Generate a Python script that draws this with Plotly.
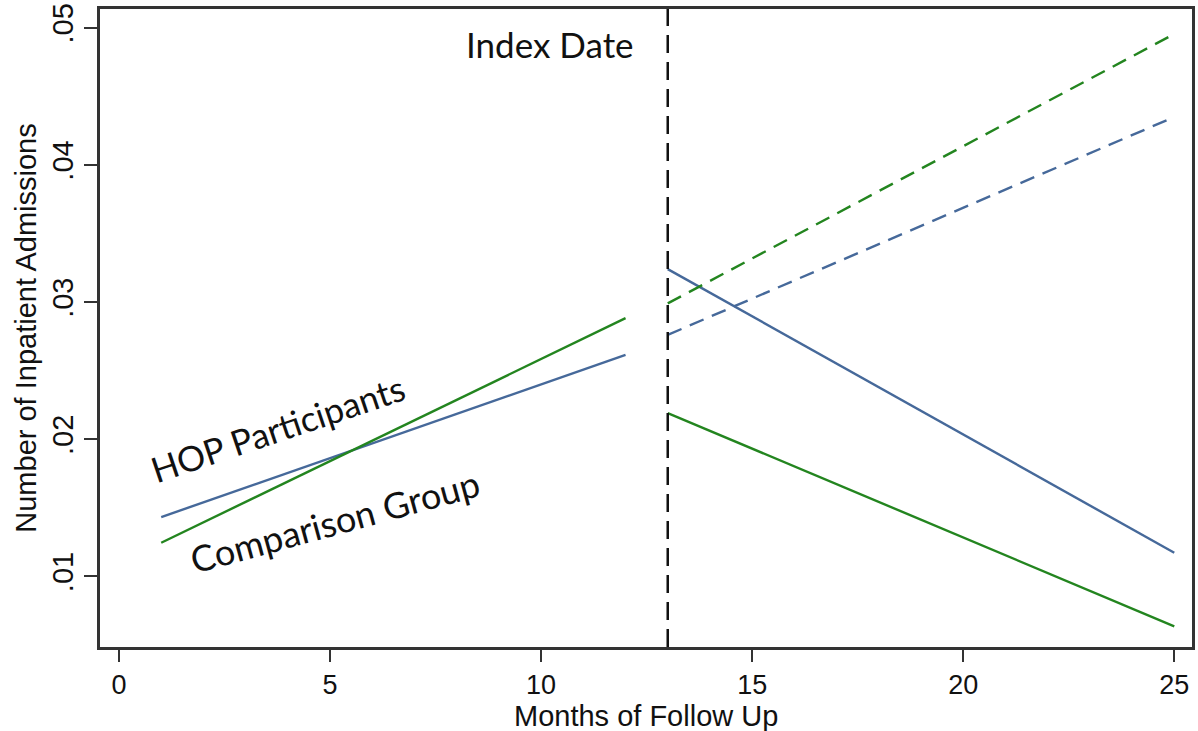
import plotly.graph_objects as go

# Data
pre_months = [1, 12]
post_months = [13, 25]
hop_pre = [0.01432, 0.02615]
comp_pre = [0.01245, 0.02882]
hop_post = [0.0324, 0.01172]
comp_post = [0.0219, 0.00636]
hop_counterfactual = [0.0276, 0.04349]
comp_counterfactual = [0.0299, 0.04954]
index_month = 13

x_ticks = [0, 5, 10, 15, 20, 25]
y_ticks = [0.01, 0.02, 0.03, 0.04, 0.05]
y_tick_labels = [".01", ".02", ".03", ".04", ".05"]

BLUE = "#46699a"
GREEN = "#23851f"
LW = 2.4

fig = go.Figure()
fig.add_trace(go.Scatter(x=pre_months, y=hop_pre, mode="lines",
                         line=dict(color=BLUE, width=LW), name="HOP pre"))
fig.add_trace(go.Scatter(x=pre_months, y=comp_pre, mode="lines",
                         line=dict(color=GREEN, width=LW), name="Comparison pre"))
fig.add_trace(go.Scatter(x=post_months, y=hop_post, mode="lines",
                         line=dict(color=BLUE, width=LW), name="HOP post"))
fig.add_trace(go.Scatter(x=post_months, y=comp_post, mode="lines",
                         line=dict(color=GREEN, width=LW), name="Comparison post"))
fig.add_trace(go.Scatter(x=post_months, y=hop_counterfactual, mode="lines",
                         line=dict(color=BLUE, width=LW, dash="15px,9px"), name="HOP cf"))
fig.add_trace(go.Scatter(x=post_months, y=comp_counterfactual, mode="lines",
                         line=dict(color=GREEN, width=LW, dash="15px,9px"), name="Comparison cf"))

fig.add_vline(x=index_month, line=dict(color="#111111", width=2.5, dash="18px,9px"))

txt_font = dict(family="Lato, Open Sans, sans-serif", size=35, color="#111111")
fig.add_annotation(x=10.2, y=0.04884, xref="x", yref="y", xanchor="center",
                   yanchor="middle", text="Index Date", showarrow=False, font=txt_font)
fig.add_annotation(x=3.75, y=0.02082, xref="x", yref="y", xanchor="center",
                   yanchor="middle", text="HOP Participants", showarrow=False,
                   font=txt_font, textangle=-18.6)
fig.add_annotation(x=5.12, y=0.01400, xref="x", yref="y", xanchor="center",
                   yanchor="middle", text="Comparison Group", showarrow=False,
                   font=dict(family="Lato, Open Sans, sans-serif", size=36, color="#111111"),
                   textangle=-15.3)

axis_font = dict(family="Liberation Sans Narrow, Arial Narrow, Liberation Sans, sans-serif",
                 size=29, color="#111111")
tick_font_x = dict(family="Liberation Sans Narrow, Arial Narrow, Liberation Sans, sans-serif",
                   size=27, color="#111111")
fig.add_annotation(x=0.5, y=0, xref="paper", yref="paper", xanchor="center",
                   yanchor="middle", yshift=-69, text="Months of Follow Up",
                   showarrow=False, font=axis_font)

fig.update_layout(
    width=1198, height=731,
    margin=dict(l=100, r=3, t=7, b=84),
    paper_bgcolor="white", plot_bgcolor="white",
    showlegend=False,
    xaxis=dict(range=[-0.45, 25.42], tickvals=x_ticks, ticks="outside", ticklen=12,
               tickwidth=1.5, tickcolor="#333333", showgrid=False, zeroline=False,
               showline=True, linecolor="#333333", linewidth=2.5, mirror=True,
               tickfont=tick_font_x),
    yaxis=dict(range=[0.00485, 0.05136], tickvals=y_ticks, ticktext=y_tick_labels,
               ticks="outside", ticklen=13, tickwidth=1.5, tickcolor="#333333",
               showgrid=False, zeroline=False, tickangle=-90,
               showline=True, linecolor="#333333", linewidth=2.5, mirror=True,
               tickfont=axis_font,
               title=dict(text="Number of Inpatient Admissions", font=axis_font, standoff=2)),
)

fig.write_html("out.html")
